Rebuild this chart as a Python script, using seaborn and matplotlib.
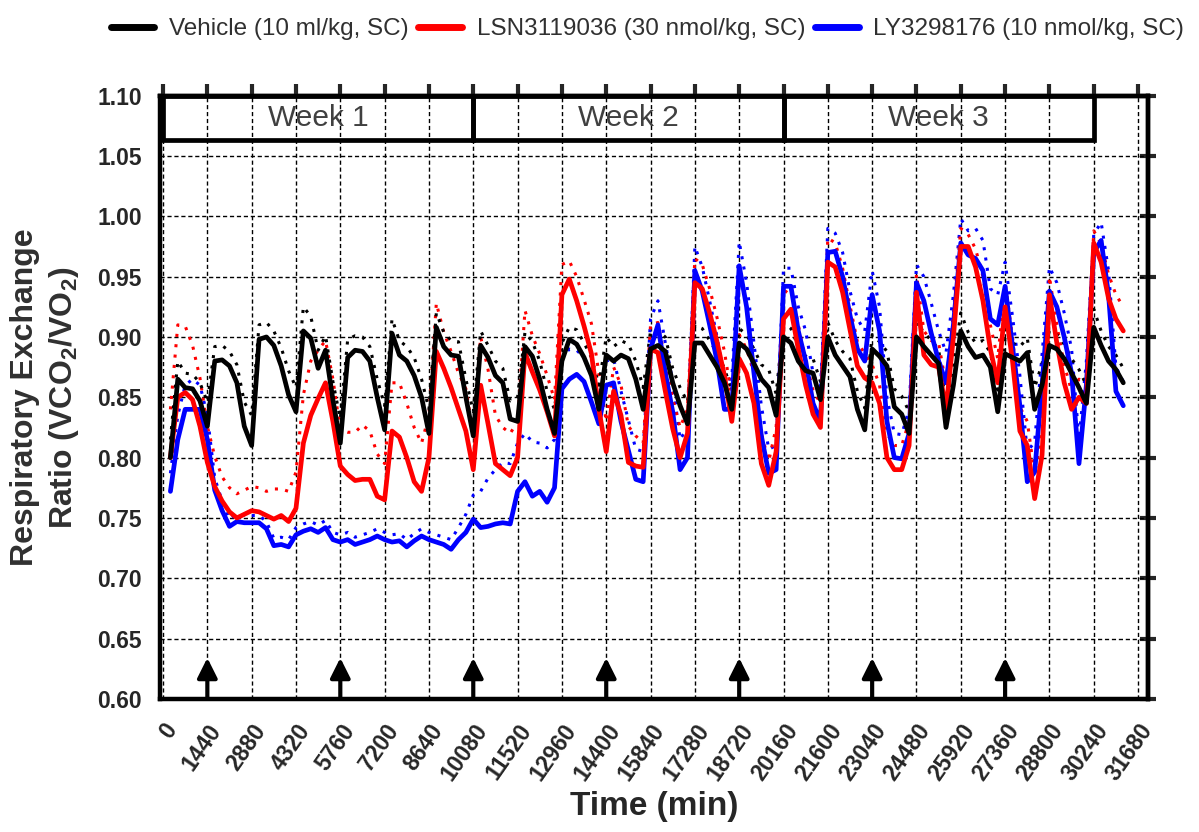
import numpy as np
import pandas as pd
import matplotlib
matplotlib.use("Agg")
import matplotlib.pyplot as plt
import seaborn as sns
from matplotlib.lines import Line2D
from matplotlib.patches import Rectangle

# 4 h bins, minutes from start of study
time_min = np.arange(240, 31201, 240)

# mean RER per bin (one row per day)
vehicle = [
    0.800, 0.865, 0.858, 0.857, 0.847, 0.826,
    0.880, 0.881, 0.876, 0.862, 0.826, 0.810,
    0.898, 0.900, 0.893, 0.876, 0.852, 0.838,
    0.905, 0.899, 0.874, 0.889, 0.848, 0.812,
    0.883, 0.889, 0.888, 0.880, 0.850, 0.823,
    0.903, 0.885, 0.880, 0.868, 0.850, 0.820,
    0.908, 0.892, 0.885, 0.884, 0.850, 0.818,
    0.893, 0.883, 0.868, 0.862, 0.832, 0.830,
    0.892, 0.884, 0.865, 0.840, 0.820, 0.880,
    0.898, 0.894, 0.883, 0.868, 0.840, 0.885,
    0.880, 0.885, 0.882, 0.865, 0.840, 0.890,
    0.893, 0.888, 0.862, 0.843, 0.828, 0.895,
    0.895, 0.885, 0.875, 0.862, 0.840, 0.895,
    0.890, 0.878, 0.865, 0.858, 0.835, 0.900,
    0.895, 0.880, 0.872, 0.870, 0.848, 0.900,
    0.885, 0.876, 0.867, 0.840, 0.823, 0.890,
    0.884, 0.876, 0.842, 0.836, 0.820, 0.900,
    0.892, 0.885, 0.878, 0.825, 0.860, 0.905,
    0.892, 0.883, 0.885, 0.875, 0.838, 0.886,
    0.883, 0.880, 0.887, 0.840, 0.860, 0.893,
    0.890, 0.882, 0.870, 0.858, 0.845, 0.908,
    0.893, 0.880, 0.873, 0.862,
]
lsn = [
    0.800, 0.850, 0.854, 0.848, 0.826, 0.796,
    0.776, 0.764, 0.755, 0.750, 0.753, 0.756,
    0.755, 0.752, 0.749, 0.752, 0.747, 0.758,
    0.812, 0.835, 0.849, 0.862, 0.830, 0.793,
    0.786, 0.781, 0.782, 0.782, 0.768, 0.765,
    0.822, 0.817, 0.800, 0.780, 0.772, 0.800,
    0.888, 0.874, 0.858, 0.840, 0.822, 0.790,
    0.860, 0.828, 0.795, 0.790, 0.785, 0.800,
    0.887, 0.871, 0.856, 0.838, 0.818, 0.935,
    0.948, 0.930, 0.909, 0.886, 0.840, 0.805,
    0.855, 0.835, 0.796, 0.793, 0.792, 0.890,
    0.887, 0.855, 0.824, 0.800, 0.820, 0.945,
    0.940, 0.920, 0.896, 0.868, 0.830, 0.882,
    0.870, 0.845, 0.795, 0.777, 0.805, 0.915,
    0.923, 0.890, 0.860, 0.836, 0.825, 0.962,
    0.958, 0.937, 0.906, 0.876, 0.866, 0.862,
    0.845, 0.800, 0.790, 0.790, 0.810, 0.937,
    0.885, 0.877, 0.875, 0.840, 0.900, 0.975,
    0.975, 0.958, 0.930, 0.890, 0.862, 0.925,
    0.880, 0.822, 0.810, 0.766, 0.802, 0.935,
    0.895, 0.862, 0.840, 0.850, 0.845, 0.978,
    0.962, 0.932, 0.915, 0.905,
]
ly = [
    0.772, 0.815, 0.840, 0.840, 0.840, 0.815,
    0.773, 0.756, 0.743, 0.747, 0.746, 0.746,
    0.746, 0.741, 0.727, 0.728, 0.726, 0.736,
    0.739, 0.741, 0.738, 0.742, 0.732, 0.730,
    0.732, 0.728, 0.730, 0.732, 0.735, 0.732,
    0.730, 0.731, 0.726, 0.731, 0.735, 0.732,
    0.730, 0.728, 0.724, 0.732, 0.738, 0.749,
    0.742, 0.743, 0.745, 0.746, 0.745, 0.772,
    0.780, 0.768, 0.772, 0.763, 0.775, 0.857,
    0.865, 0.869, 0.863, 0.846, 0.828, 0.860,
    0.862, 0.830, 0.806, 0.782, 0.780, 0.890,
    0.910, 0.870, 0.838, 0.790, 0.800, 0.955,
    0.938, 0.910, 0.880, 0.840, 0.840, 0.959,
    0.925, 0.870, 0.818, 0.787, 0.790, 0.942,
    0.942, 0.905, 0.880, 0.845, 0.830, 0.970,
    0.971, 0.950, 0.918, 0.890, 0.880, 0.935,
    0.905, 0.830, 0.800, 0.799, 0.820, 0.945,
    0.930, 0.903, 0.880, 0.862, 0.910, 0.978,
    0.968, 0.965, 0.955, 0.915, 0.910, 0.942,
    0.892, 0.843, 0.780, 0.788, 0.860, 0.938,
    0.925, 0.900, 0.870, 0.795, 0.860, 0.970,
    0.980, 0.935, 0.855, 0.843,
]

# SEM per bin, drawn as dotted upper bound
vehicle_sem = [
    .015, .015, .012, .012, .015, .020,
    .012, .012, .012, .015, .020, .025,
    .012, .012, .012, .015, .020, .020,
    .020, .018, .015, .012, .015, .020,
    .015, .012, .012, .012, .015, .020,
    .012, .012, .012, .015, .015, .020,
    .012, .012, .012, .012, .015, .020,
    .012, .010, .012, .012, .015, .020,
    .012, .012, .015, .015, .020, .015,
    .010, .012, .012, .015, .020, .015,
    .012, .012, .012, .015, .018, .015,
    .012, .012, .012, .015, .018, .015,
    .012, .012, .012, .012, .015, .012,
    .012, .012, .012, .015, .018, .012,
    .012, .012, .012, .012, .015, .012,
    .012, .012, .015, .015, .018, .012,
    .012, .012, .015, .015, .018, .012,
    .012, .012, .012, .018, .018, .015,
    .012, .012, .012, .012, .018, .012,
    .012, .012, .012, .018, .018, .012,
    .012, .012, .012, .015, .015, .015,
    .012, .012, .012, .012,
]
lsn_sem = [
    .040, .060, .055, .045, .040, .030,
    .025, .020, .020, .020, .020, .020,
    .020, .020, .025, .022, .025, .030,
    .040, .045, .040, .035, .035, .030,
    .035, .040, .045, .040, .035, .030,
    .040, .045, .045, .045, .040, .035,
    .040, .030, .030, .030, .035, .030,
    .040, .045, .040, .035, .035, .030,
    .035, .030, .030, .030, .030, .025,
    .015, .020, .022, .025, .030, .025,
    .020, .025, .030, .025, .020, .020,
    .025, .025, .025, .025, .020, .020,
    .020, .020, .020, .020, .020, .020,
    .020, .025, .025, .020, .020, .020,
    .020, .020, .020, .020, .020, .020,
    .020, .020, .020, .020, .020, .015,
    .015, .020, .020, .020, .020, .015,
    .020, .020, .020, .020, .020, .015,
    .010, .015, .020, .020, .020, .020,
    .020, .020, .020, .020, .020, .015,
    .015, .015, .015, .015, .015, .010,
    .015, .020, .020, .020,
]
ly_sem = [
    .015, .020, .020, .025, .020, .020,
    .010, .008, .006, .006, .006, .006,
    .006, .006, .006, .006, .006, .006,
    .006, .006, .006, .006, .006, .006,
    .006, .006, .006, .006, .006, .006,
    .006, .006, .006, .006, .006, .006,
    .006, .006, .008, .010, .015, .020,
    .030, .040, .045, .050, .050, .040,
    .040, .045, .040, .045, .040, .025,
    .025, .020, .020, .020, .020, .020,
    .020, .025, .025, .025, .025, .025,
    .020, .025, .025, .025, .025, .020,
    .020, .020, .020, .025, .025, .020,
    .020, .025, .025, .020, .020, .015,
    .015, .020, .025, .025, .025, .020,
    .015, .020, .020, .025, .025, .020,
    .020, .020, .020, .020, .020, .015,
    .020, .025, .025, .025, .025, .020,
    .020, .025, .025, .025, .025, .020,
    .025, .025, .025, .025, .025, .020,
    .020, .020, .020, .020, .020, .015,
    .015, .020, .020, .020,
]

group_names = ["Vehicle (10 ml/kg, SC)", "LSN3119036 (30 nmol/kg, SC)", "LY3298176 (10 nmol/kg, SC)"]
group_colors = ["black", "#ff0000", "#0000ff"]
dose_times = [1440, 5760, 10080, 14400, 18720, 23040, 27360]
week_labels = ["Week 1", "Week 2", "Week 3"]
week_edges = [0, 10080, 20160, 30240]
x_ticks = np.arange(0, 31681, 1440)
y_ticks = np.arange(0.60, 1.101, 0.05)

frames = []
for name, mean, sem in zip(group_names, [vehicle, lsn, ly], [vehicle_sem, lsn_sem, ly_sem]):
    d = pd.DataFrame({"time": time_min, "rer": mean, "sem": sem})
    d["upper"] = d["rer"] + d["sem"]
    d["group"] = name
    frames.append(d)
df = pd.concat(frames, ignore_index=True)
palette = dict(zip(group_names, group_colors))
draw_order = group_names[::-1]

sns.set_style("white")
plt.rcParams["font.family"] = ["Liberation Sans", "DejaVu Sans"]
plt.rcParams["mathtext.fontset"] = "custom"
plt.rcParams["mathtext.rm"] = "Liberation Sans"
plt.rcParams["mathtext.bf"] = "Liberation Sans:bold"

fig = plt.figure(figsize=(11.99, 8.32), dpi=100)
ax = fig.add_axes([0.1334, 0.16, 0.824, 0.725])

sns.lineplot(data=df, x="time", y="upper", hue="group", hue_order=draw_order, palette=palette,
             estimator=None, linestyle=(0, (1, 2.4)), linewidth=2.2, legend=False, ax=ax)
sns.lineplot(data=df, x="time", y="rer", hue="group", hue_order=draw_order, palette=palette,
             estimator=None, linewidth=3.4, legend=False, ax=ax)

ax.set_xlim(-100, 32000)
ax.set_ylim(0.60, 1.10)
ax.set_xticks(x_ticks)
ax.set_yticks(y_ticks)
ax.set_xticklabels([str(t) for t in x_ticks], rotation=55, ha="right", rotation_mode="anchor",
                   fontsize=16.5, fontweight="bold")
ax.set_yticklabels([f"{v:.2f}" for v in y_ticks], fontsize=16.5, fontweight="bold")
ax.tick_params(axis="both", direction="out", length=9, width=3, pad=4)
ax.tick_params(axis="x", pad=6)
ax.grid(True, color="black", linestyle=(0, (3, 2)), linewidth=1.0)
for s in ax.spines.values():
    s.set_linewidth(3.2)
    s.set_color("black")

top = ax.secondary_xaxis("top")
top.set_xticks(x_ticks)
top.tick_params(direction="out", length=9, width=3, labeltop=False)
top.spines["top"].set_linewidth(3.2)
right = ax.secondary_yaxis("right")
right.set_yticks(y_ticks)
right.tick_params(direction="inout", length=12, width=3, labelright=False)
right.spines["right"].set_linewidth(3.2)

# week boxes
box_bottom = 1.0633
for lab, x0, x1 in zip(week_labels, week_edges[:-1], week_edges[1:]):
    ax.add_patch(Rectangle((x0, box_bottom), x1 - x0, 1.10 - box_bottom, fill=False,
                           lw=3.4, ec="black", zorder=6, clip_on=False))
    ax.text((x0 + x1) / 2, (box_bottom + 1.10) / 2, lab, ha="center", va="center",
            fontsize=21.5, color="#404040", zorder=7)

# dosing arrows
for t in dose_times:
    ax.annotate("", xy=(t, 0.634), xytext=(t, 0.600),
                arrowprops=dict(arrowstyle="-|>", color="black", lw=3, mutation_scale=30,
                                shrinkA=0, shrinkB=0), zorder=6)

ax.set_xlabel("Time (min)", fontsize=24, fontweight="bold", labelpad=4)
ax.set_ylabel("Respiratory Exchange\nRatio (VCO$_{\\mathbf{2}}$/VO$_{\\mathbf{2}}$)", fontsize=23,
              fontweight="bold", color="#303030", labelpad=12, linespacing=1.25)

handles = [Line2D([0], [0], color=c, lw=5) for c in group_colors]
fig.legend(handles, group_names, loc="center", bbox_to_anchor=(0.54, 0.965), ncol=3,
           frameon=False, fontsize=17.5, handlelength=1.8, handletextpad=0.6, columnspacing=0.4,
           labelcolor="#303030")

fig.savefig("out.png", dpi=100)
